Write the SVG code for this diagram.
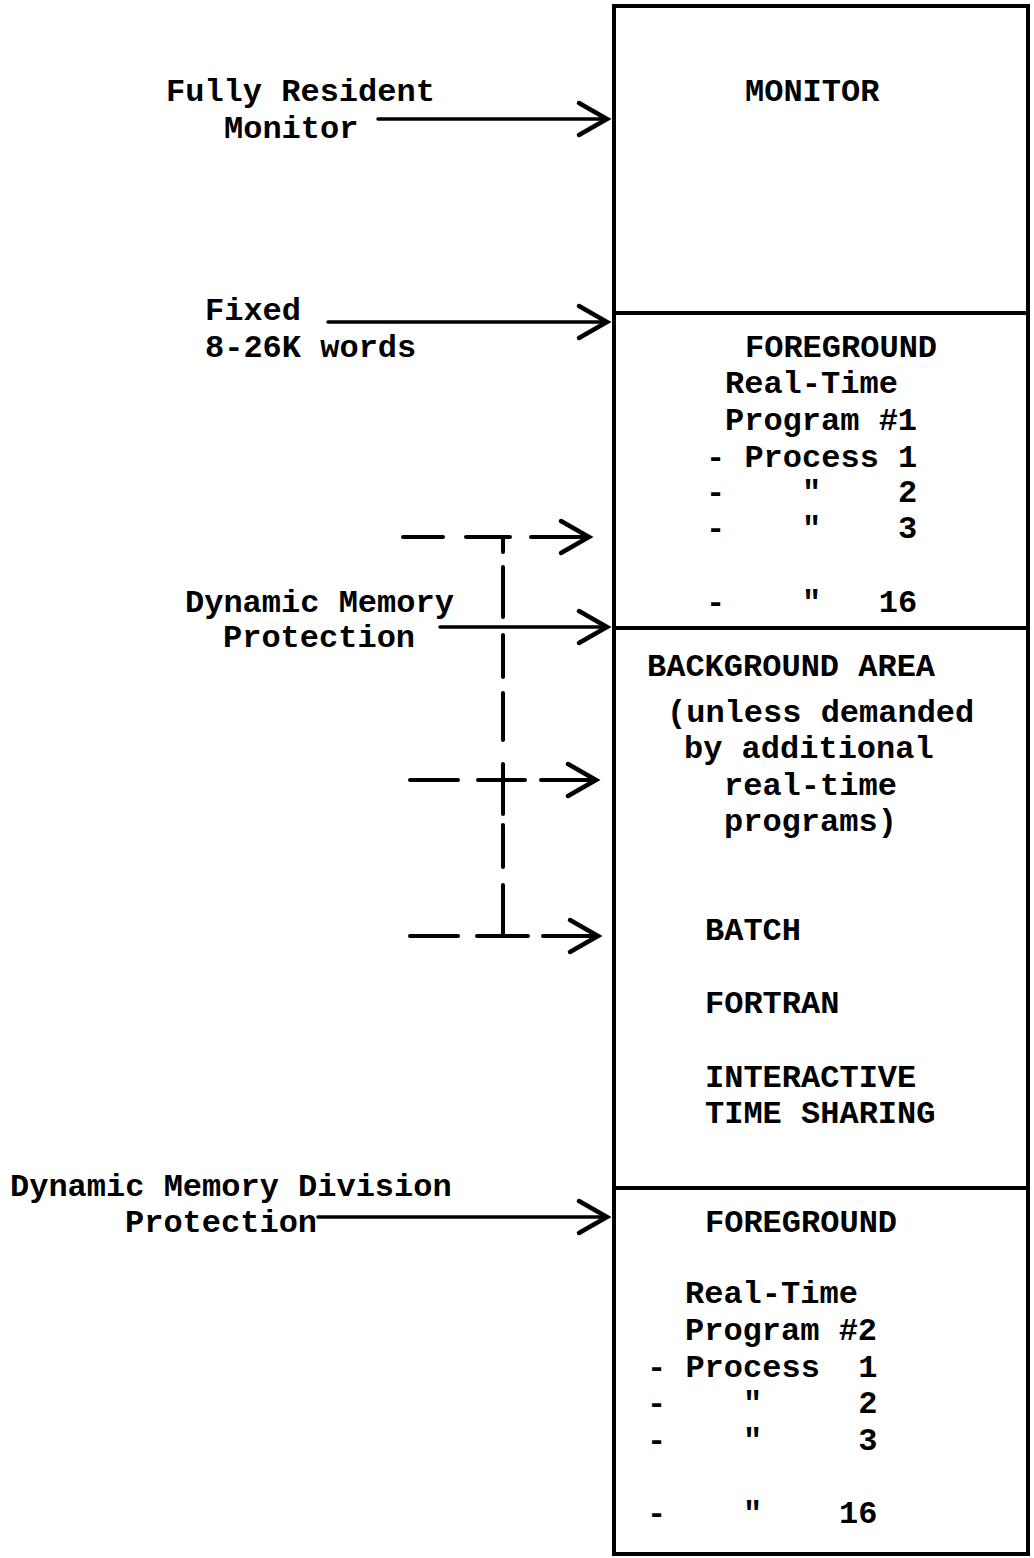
<svg xmlns="http://www.w3.org/2000/svg" width="1034" height="1558" viewBox="0 0 1034 1558">
<style>
text{font-family:"Liberation Mono","Courier New",monospace;font-size:32px;font-weight:bold;fill:#000;white-space:pre}
.ln{stroke:#000;stroke-width:3.5;fill:none;stroke-linecap:round}
.dl{stroke:#000;stroke-width:4;fill:none;stroke-linecap:round}
.box{stroke:#000;stroke-width:4;fill:none}
</style>
<defs>
<marker id="chev" markerUnits="userSpaceOnUse" markerWidth="36" markerHeight="40" viewBox="0 0 36 40" refX="32" refY="20" orient="auto" overflow="visible">
<path d="M4,4 L32,20 L4,36" fill="none" stroke="#000" stroke-width="4.5" stroke-linecap="round" stroke-linejoin="miter"/>
</marker>
</defs>
<rect width="1034" height="1558" fill="#fff"/>

<g id="memory-box">
<rect class="box" x="614" y="6" width="414" height="1548"/>
<line class="box" x1="614" y1="313" x2="1028" y2="313"/>
<line class="box" x1="614" y1="628" x2="1028" y2="628"/>
<line class="box" x1="614" y1="1188" x2="1028" y2="1188"/>
</g>

<g id="monitor">
<text x="745" y="101">MONITOR</text>
</g>

<g id="foreground1" xml:space="preserve">
<text x="745" y="357">FOREGROUND</text>
<text x="725" y="393">Real-Time</text>
<text x="725" y="430">Program #1</text>
<text x="706" y="467">- Process 1</text>
<text x="706" y="502">-    &quot;    2</text>
<text x="706" y="538">-    &quot;    3</text>
<text x="706" y="612">-    &quot;   16</text>
</g>

<g id="background" xml:space="preserve">
<text x="647" y="676">BACKGROUND AREA</text>
<text x="667" y="722">(unless demanded</text>
<text x="684" y="758">by additional</text>
<text x="724" y="795">real-time</text>
<text x="724" y="831">programs)</text>
<text x="705" y="940">BATCH</text>
<text x="705" y="1013">FORTRAN</text>
<text x="705" y="1087">INTERACTIVE</text>
<text x="705" y="1123">TIME SHARING</text>
</g>

<g id="foreground2" xml:space="preserve">
<text x="705" y="1232">FOREGROUND</text>
<text x="685" y="1303">Real-Time</text>
<text x="685" y="1340">Program #2</text>
<text x="647" y="1377">- Process  1</text>
<text x="647" y="1413">-    &quot;     2</text>
<text x="647" y="1450">-    &quot;     3</text>
<text x="647" y="1523">-    &quot;    16</text>
</g>

<g id="label-fully-resident">
<text x="166" y="101">Fully Resident</text>
<text x="224" y="138">Monitor</text>
</g>
<g id="label-fixed">
<text x="205" y="320">Fixed</text>
<text x="205" y="357">8-26K words</text>
</g>
<g id="label-dynamic-memory">
<text x="185" y="612">Dynamic Memory</text>
<text x="223" y="647">Protection</text>
</g>
<g id="label-dynamic-division">
<text x="10" y="1196">Dynamic Memory Division</text>
<text x="125" y="1232">Protection</text>
</g>

<g id="connectors">
<line class="ln" x1="378" y1="119" x2="607" y2="119" marker-end="url(#chev)"/>
<line class="ln" x1="328" y1="322" x2="607" y2="322" marker-end="url(#chev)"/>
<line class="ln" x1="440" y1="627" x2="607" y2="627" marker-end="url(#chev)"/>
<line class="ln" x1="318" y1="1217" x2="607" y2="1217" marker-end="url(#chev)"/>

<line class="dl" x1="403" y1="537" x2="443" y2="537"/>
<line class="dl" x1="466" y1="537" x2="510" y2="537"/>
<line class="dl" x1="531" y1="537" x2="589" y2="537" marker-end="url(#chev)"/>
<line class="dl" x1="503" y1="537" x2="503" y2="552"/>
<line class="dl" x1="503" y1="567" x2="503" y2="617"/>
<line class="dl" x1="503" y1="635" x2="503" y2="677"/>
<line class="dl" x1="503" y1="693" x2="503" y2="740"/>
<line class="dl" x1="503" y1="764" x2="503" y2="814"/>
<line class="dl" x1="410" y1="780" x2="458" y2="780"/>
<line class="dl" x1="478" y1="780" x2="525" y2="780"/>
<line class="dl" x1="541" y1="780" x2="596" y2="780" marker-end="url(#chev)"/>
<line class="dl" x1="503" y1="825" x2="503" y2="867"/>
<line class="dl" x1="503" y1="885" x2="503" y2="936"/>
<line class="dl" x1="410" y1="936" x2="458" y2="936"/>
<line class="dl" x1="477" y1="936" x2="528" y2="936"/>
<line class="dl" x1="543" y1="936" x2="598" y2="936" marker-end="url(#chev)"/>
</g>
</svg>
